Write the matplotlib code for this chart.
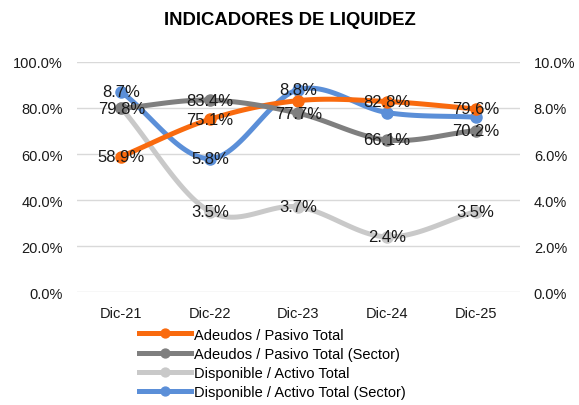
import numpy as np
import matplotlib
matplotlib.use('Agg')
import matplotlib.pyplot as plt
from matplotlib.ticker import FuncFormatter

plt.rcParams['font.family'] = ['Liberation Sans', 'DejaVu Sans']

# data
periods = ['Dic-21', 'Dic-22', 'Dic-23', 'Dic-24', 'Dic-25']
adeudos = [58.9, 75.1, 83.2, 82.8, 79.6]              # left axis
adeudos_sector = [79.8, 83.4, 77.7, 66.1, 70.2]       # left axis
disponible = [8.0, 3.5, 3.7, 2.4, 3.5]                # right axis
disponible_sector = [8.7, 5.8, 8.8, 7.8, 7.6]         # right axis

# which points show a label (others are hidden behind markers in the original)
show_adeudos = [True, True, False, True, True]
show_adeudos_sector = [True, True, True, True, True]
show_disponible = [False, True, True, True, True]
show_disponible_sector = [True, True, True, False, False]


def smooth(x, y, n=30):
    # catmull-rom curve through the points, like excel "smoothed line"
    x = np.asarray(x, float)
    y = np.asarray(y, float)
    px = np.concatenate([[2 * x[0] - x[1]], x, [2 * x[-1] - x[-2]]])
    py = np.concatenate([[2 * y[0] - y[1]], y, [2 * y[-1] - y[-2]]])
    xs, ys = [], []
    t = np.linspace(0, 1, n)
    for i in range(1, len(px) - 2):
        for p, out in ((px, xs), (py, ys)):
            p0, p1, p2, p3 = p[i - 1], p[i], p[i + 1], p[i + 2]
            out.extend(0.5 * ((2 * p1) + (-p0 + p2) * t
                              + (2 * p0 - 5 * p1 + 4 * p2 - p3) * t ** 2
                              + (-p0 + 3 * p1 - 3 * p2 + p3) * t ** 3))
    return np.array(xs), np.array(ys)


fig = plt.figure(figsize=(5.79, 4.06), dpi=100)
ax2 = fig.add_axes([0.133, 0.278, 0.765, 0.567])
ax = ax2.twinx()
# primary series drawn over the secondary ones
ax2.yaxis.tick_right()
ax.yaxis.tick_left()
ax.set_zorder(ax2.get_zorder() + 1)
ax.patch.set_visible(False)

x = np.arange(len(periods))
lw = 3.6
ms = 8

series = [
    (ax, adeudos, show_adeudos, '#F96A0E', 'Adeudos / Pasivo Total', 1),
    (ax, adeudos_sector, show_adeudos_sector, '#7F7F7F', 'Adeudos / Pasivo Total (Sector)', 1),
    (ax2, disponible, show_disponible, '#C9C9C9', 'Disponible / Activo Total', 10),
    (ax2, disponible_sector, show_disponible_sector, '#5B8FD8', 'Disponible / Activo Total (Sector)', 10),
]

handles = []
for a, vals, show, col, name, _ in series:
    sx, sy = smooth(x, vals)
    a.plot(sx, sy, color=col, lw=lw, solid_capstyle='round', zorder=2)
    a.plot(x, vals, 'o', color=col, ms=ms, zorder=3)
    h, = ax.plot([], [], color=col, lw=lw, marker='o', ms=ms * 0.8, label=name)
    handles.append(h)

# all labels on the top axes, scaled to the left axis
for a, vals, show, col, name, k in series:
    for xi, v, s in zip(x, vals, show):
        if s:
            ax.text(xi, v * k, f'{v:.1f}%', ha='center', va='center', fontsize=12,
                    color='#1a1a1a', zorder=5)

ax.set_xlim(-0.5, 4.5)
ax.set_ylim(0, 100)
ax2.set_ylim(0, 10)
ax.set_yticks(np.arange(0, 101, 20))
ax2.set_yticks(np.arange(0, 11, 2))
ax.yaxis.set_major_formatter(FuncFormatter(lambda v, p: f'{v:.1f}%'))
ax2.yaxis.set_major_formatter(FuncFormatter(lambda v, p: f'{v:.1f}%'))
ax2.set_xticks(x)
ax2.set_xticklabels(periods)

for a in (ax, ax2):
    for s in a.spines.values():
        s.set_visible(False)
    a.tick_params(length=0, labelsize=10.5, colors='#1a1a1a')
ax.tick_params(axis='y', pad=10)
ax2.tick_params(axis='y', pad=10)
ax2.tick_params(axis='x', pad=10)
ax2.grid(axis='y', color='#D9D9D9', lw=1)
ax2.set_axisbelow(True)

fig.suptitle('INDICADORES DE LIQUIDEZ', y=0.97, fontsize=13.3, fontweight='bold')

fig.legend(handles=handles, loc='upper center', bbox_to_anchor=(0.47, 0.198),
           frameon=False, fontsize=10.5, handlelength=3.6, labelspacing=0.36,
           handletextpad=0.2, borderaxespad=0, borderpad=0.2)

fig.savefig('out.png', dpi=100)
